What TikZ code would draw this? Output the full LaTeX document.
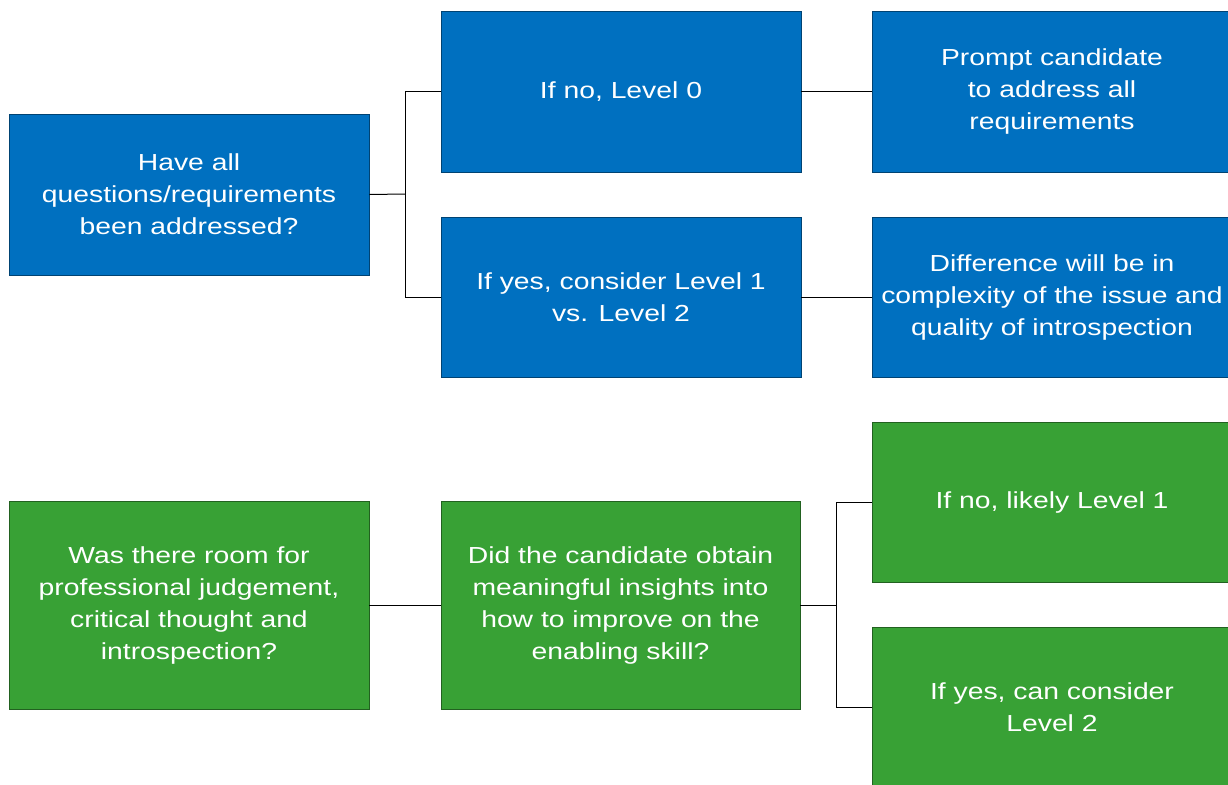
\documentclass[tikz,border=0pt]{standalone}
\usepackage{fontspec}
\setmainfont{Liberation Sans}[FakeStretch=1.22]
\definecolor{boxblue}{HTML}{0070C0}
\definecolor{boxgreen}{HTML}{38A135}
\begin{document}
\begin{tikzpicture}[x=1pt,y=-1pt,
  base/.style={rectangle, text=white, align=center, inner sep=0pt,
    font=\fontsize{23.2}{32}\selectfont, line width=0.8pt},
  bluebox/.style={base, fill=boxblue, draw=boxblue!60!black},
  greenbox/.style={base, fill=boxgreen, draw=boxgreen!60!black},
  conn/.style={draw=black, line width=1pt}]
\useasboundingbox (0,0) rectangle (1228,784);
\fill[white] (0,0) rectangle (1228,784);
% blue part
\node[bluebox, minimum width=360, minimum height=161] (a) at (189,194.5)
  {Have all\\questions/requirements\\been addressed?};
\node[bluebox, minimum width=360, minimum height=161] (b1) at (621,91.5)
  {If no, Level 0};
\node[bluebox, minimum width=360, minimum height=161] (c1) at (1052,91.5)
  {Prompt candidate\\to address all\\requirements};
\node[bluebox, minimum width=360, minimum height=160] (b2) at (621,297)
  {If yes, consider Level 1\\vs. Level 2};
\node[bluebox, minimum width=360, minimum height=160] (c2) at (1052,297)
  {Difference will be in\\complexity of the issue and\\quality of introspection};
% green part
\node[greenbox, minimum width=360, minimum height=208] (d) at (189,605)
  {Was there room for\\professional judgement,\\critical thought and\\introspection?};
\node[greenbox, minimum width=359, minimum height=208] (e) at (620.5,605)
  {Did the candidate obtain\\meaningful insights into\\how to improve on the\\enabling skill?};
\node[greenbox, minimum width=360, minimum height=160] (f1) at (1052,502)
  {If no, likely Level 1};
\node[greenbox, minimum width=360, minimum height=160] (f2) at (1052,707)
  {If yes, can consider\\Level 2};
% connectors
\coordinate (j1) at (405,194);
\coordinate (j2) at (836,605);
\draw[conn] (a.east) -- (j1);
\draw[conn] (j1) |- (b1.west);
\draw[conn] (j1) |- (b2.west);
\draw[conn] (b1.east) -- (c1.west);
\draw[conn] (b2.east) -- (c2.west);
\draw[conn] (d.east) -- (e.west);
\draw[conn] (e.east) -- (j2);
\draw[conn] (j2) |- (f1.west);
\draw[conn] (j2) |- (f2.west);
\end{tikzpicture}
\end{document}
